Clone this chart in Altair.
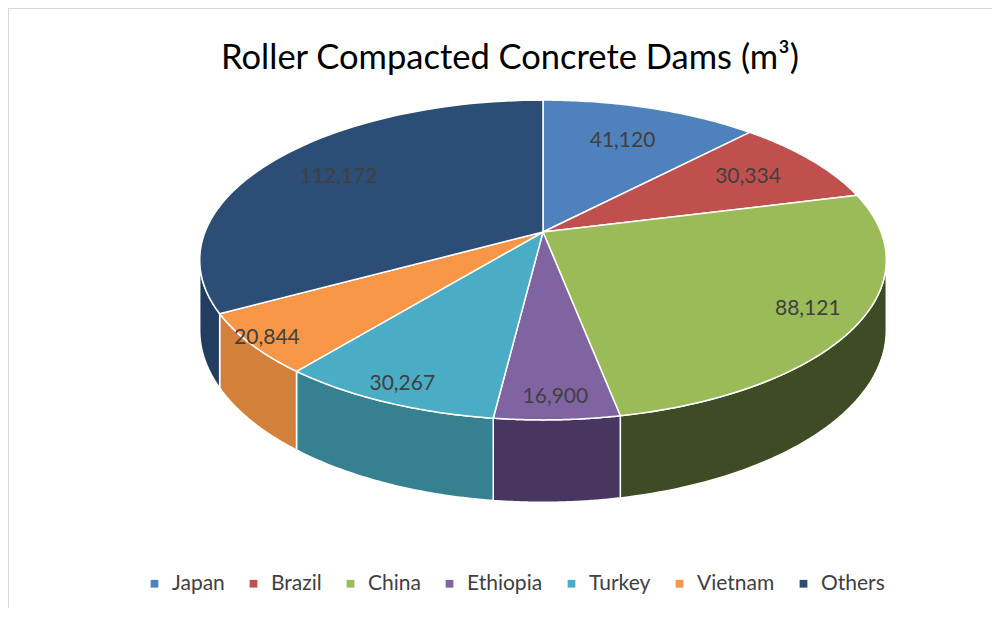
import altair as alt
import numpy as np
import pandas as pd

# ---- data ----
countries = ["Japan", "Brazil", "China", "Ethiopia", "Turkey", "Vietnam", "Others"]
volumes = [41120, 30334, 88121, 16900, 30267, 20844, 112172]
top_colors = ["#4F81BD", "#C0504D", "#9BBB59", "#8064A2", "#4BACC6", "#F79646", "#2C4D75"]
side_colors = ["#2E4D73", "#7A302E", "#3F4B24", "#47365F", "#35818F", "#D2803A", "#223D60"]
value_labels = [f"{v:,}" for v in volumes]
title_text = "Roller Compacted Concrete Dams (m³)"

# ---- layout / geometry parameters (pixels inside the view) ----
W, H = 984, 600
CX, CY = 535, 224      # pie centre
A, B = 338, 155        # horizontal / vertical radius factors
P = 0.175              # perspective strength
D = 68                 # wall depth
N = 60                 # points per arc
T1 = float(np.arccos(-P))
T2 = float(2 * np.pi - T1)

total = sum(volumes)
cum = np.cumsum([0] + volumes)
base = pd.DataFrame({
    "country": countries,
    "value": volumes,
    "label": value_labels,
    "s": cum[:-1] / total,
    "e": cum[1:] / total,
    "side": side_colors,
})
pts = base.merge(pd.DataFrame({"k": list(range(2 * N + 3))}), how="cross")

xenc = alt.X("X:Q", scale=alt.Scale(domain=[0, W], nice=False, zero=False), axis=None)
yenc = alt.Y("Y:Q", scale=alt.Scale(domain=[0, H], nice=False, zero=False, reverse=True), axis=None)

projX = f"{CX} + {A}*datum.x3/(1+{P}*datum.z3)"
projY = f"{CY} - {B}*datum.z3/(1+{P}*datum.z3)"

# side walls (front half only)
walls = (
    alt.Chart(pts)
    .transform_calculate(lo=f"max(2*PI*datum.s, {T1})", hi=f"min(2*PI*datum.e, {T2})")
    .transform_filter("datum.lo < datum.hi")
    .transform_calculate(
        fr=f"datum.k <= {N} ? datum.k/{N} : (datum.k <= {2*N+1} ? 1 - (datum.k-{N+1})/{N} : 0)",
        bot=f"(datum.k > {N} && datum.k <= {2*N+1}) ? 1 : 0",
    )
    .transform_calculate(th="datum.lo + (datum.hi-datum.lo)*datum.fr")
    .transform_calculate(x3="sin(datum.th)", z3="cos(datum.th)")
    .transform_calculate(X=projX, Y=f"{projY} + datum.bot*{D}/(1+{P}*datum.z3)")
    .mark_line(stroke="white", strokeWidth=1.5, strokeJoin="round")
    .encode(
        x=xenc, y=yenc,
        order=alt.Order("k:Q"),
        detail="country:N",
        fill=alt.Fill("side:N", scale=None),
    )
)

# top face
top = (
    alt.Chart(pts)
    .transform_filter(f"datum.k <= {N+2}")
    .transform_calculate(
        th=f"2*PI*(datum.s + (datum.e-datum.s)*clamp((datum.k-1)/{N}, 0, 1))",
        r=f"(datum.k == 0 || datum.k == {N+2}) ? 0 : 1",
    )
    .transform_calculate(x3="datum.r*sin(datum.th)", z3="datum.r*cos(datum.th)")
    .transform_calculate(X=projX, Y=projY)
    .mark_line(stroke="white", strokeWidth=1.5, strokeJoin="round")
    .encode(
        x=xenc, y=yenc,
        order=alt.Order("k:Q"),
        detail="country:N",
        fill=alt.Fill(
            "country:N",
            scale=alt.Scale(domain=countries, range=top_colors),
            sort=countries,
            legend=alt.Legend(
                title=None, orient="none", legendX=136, legendY=565,
                direction="horizontal", columns=7,
                symbolType="square", symbolSize=60, symbolStrokeWidth=0,
                labelFont="Lato", labelFontSize=21, labelColor="#404040",
                labelOffset=7, columnPadding=18,
            ),
        ),
    )
)

# value labels
labels = (
    alt.Chart(base)
    .transform_calculate(th="PI*(datum.s + datum.e)")
    .transform_calculate(r="0.8 - 0.1*cos(datum.th) + 0.3*pow(max(0, -sin(datum.th)), 3)*max(0, -cos(datum.th))")
    .transform_calculate(x3="datum.r*sin(datum.th)", z3="datum.r*cos(datum.th)")
    .transform_calculate(X=projX, Y=projY)
    .mark_text(font="Lato", fontSize=21, color="#404040", baseline="middle", align="center")
    .encode(x=xenc, y=yenc, text="label:N")
)

title = (
    alt.Chart(pd.DataFrame({"t": [title_text]}))
    .mark_text(font="Lato", fontSize=34.5, color="#000000", baseline="alphabetic", align="center")
    .encode(x=alt.value(502), y=alt.value(61), text="t:N")
)

frame_df = pd.DataFrame({"a": [0]})
frame_top = alt.Chart(frame_df).mark_rule(color="#d9d9d9", strokeWidth=1).encode(
    x=alt.value(0), x2=alt.value(W), y=alt.value(0.5))
frame_left = alt.Chart(frame_df).mark_rule(color="#d9d9d9", strokeWidth=1).encode(
    x=alt.value(0.5), y=alt.value(0), y2=alt.value(H))

chart = (
    alt.layer(frame_top, frame_left, walls, top, labels, title)
    .resolve_scale(fill="independent")
    .properties(width=W, height=H, autosize=alt.AutoSizeParams(type="none"), padding=0)
    .configure_view(stroke=None)
)

chart.save("out.html", embed_options={"renderer": "svg", "actions": False})
